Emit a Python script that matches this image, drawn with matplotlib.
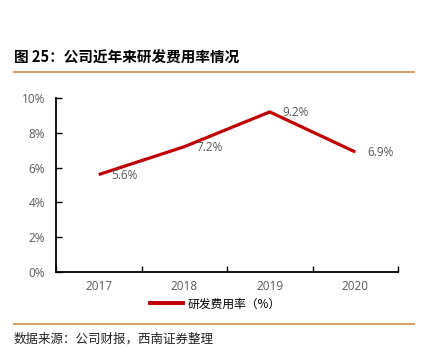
import matplotlib
matplotlib.use("Agg")
import matplotlib.pyplot as plt
from matplotlib.lines import Line2D

plt.rcParams["font.family"] = ["Noto Sans CJK SC", "DejaVu Sans"]
plt.rcParams["axes.unicode_minus"] = False

years = ["2017", "2018", "2019", "2020"]
rd_ratio = [5.6, 7.2, 9.2, 6.9]
y_ticks = [0, 2, 4, 6, 8, 10]

title = "图 25：公司近年来研发费用率情况"
series_name = "研发费用率（%）"
source = "数据来源：公司财报，西南证券整理"

red = "#C00000"
gold = "#D4A46A"
grey = "#595959"
num_font = ["Open Sans", "DejaVu Sans"]

fig = plt.figure(figsize=(4.25, 3.61), dpi=100)
ax = fig.add_axes([56 / 425, 1 - 272 / 361, 342 / 425, 174 / 361])

x = range(len(years))
ax.plot(x, rd_ratio, color=red, linewidth=2.3, solid_capstyle="butt")
for i, v in zip(x, rd_ratio):
    ax.annotate(f"{v:.1f}%", (i, v), xytext=(9, -0.5), textcoords="offset points",
                ha="left", va="center", fontsize=8.5, color=grey, family=num_font)

ax.set_xlim(-0.5, len(years) - 0.5)
ax.set_ylim(0, 10)
ax.set_yticks(y_ticks)
ax.set_yticklabels([f"{t}%" for t in y_ticks], fontsize=8.5, color=grey, family=num_font)
ax.set_xticks([i - 0.5 for i in range(len(years) + 1)])
ax.set_xticklabels([])
ax.set_xticks(list(x), minor=True)
ax.set_xticklabels(years, minor=True, fontsize=8.5, color=grey, family=num_font)
ax.tick_params(axis="x", which="minor", length=0, pad=6)
ax.tick_params(axis="both", which="major", direction="in", length=4, width=1)
ax.tick_params(axis="y", pad=8, length=4)
for s in ["top", "right"]:
    ax.spines[s].set_visible(False)
for s in ["left", "bottom"]:
    ax.spines[s].set_linewidth(1.3)

handle = Line2D([], [], color=red, linewidth=2.8)
fig.legend([handle], [series_name], loc="center", bbox_to_anchor=(215 / 425, 1 - 304 / 361),
           frameon=False, handlelength=2.8, handletextpad=0.4,
           prop={"family": ["Noto Sans CJK SC"], "size": 8.5})

fig.text(14 / 425, 1 - 58 / 361, title, fontsize=10.5, fontweight="bold",
         va="center", ha="left")
fig.add_artist(Line2D([14 / 425, 414 / 425], [1 - 72 / 361] * 2, color=gold, linewidth=1.5))
fig.add_artist(Line2D([14 / 425, 414 / 425], [1 - 324 / 361] * 2, color=gold, linewidth=1.5))
fig.text(14 / 425, 1 - 339 / 361, source, fontsize=9, style="italic",
         va="center", ha="left", color="#222222")

fig.savefig("out.png", dpi=100)
